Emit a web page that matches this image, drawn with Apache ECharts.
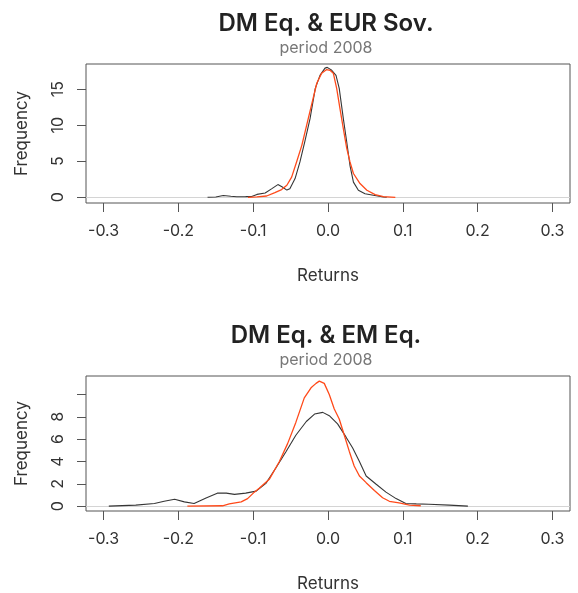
<!DOCTYPE html>
<html>
<head>
<meta charset="utf-8">
<script src="https://cdn.jsdelivr.net/npm/echarts@6/dist/echarts.min.js"></script>
<style>
html,body{margin:0;padding:0;background:#fff;}
#chart{width:578px;height:593px;}
</style>
</head>
<body>
<div id="chart"></div>
<script>
// ---- data ----
const titles = ['DM Eq. & EUR Sov.', 'DM Eq. & EM Eq.'];
const subtitle = 'period 2008';
const xTicks = [-0.3, -0.2, -0.1, 0, 0.1, 0.2, 0.3];
const yTicksTop = [0, 5, 10, 15];
const yTicksBottom = [0, 2, 4, 6, 8, 10];
const yLabelsBottom = [0, 2, 4, 6, 8];

// top panel: DM Eq. (dark) and EUR Sov. (orange)
const topDark = [[-0.161,0],[-0.150,0.05],[-0.140,0.25],[-0.130,0.15],[-0.122,0.08],[-0.110,0.1],[-0.102,0.12],[-0.095,0.4],[-0.084,0.6],[-0.075,1.2],[-0.067,1.76],[-0.061,1.43],[-0.055,1.0],[-0.051,1.2],[-0.044,2.6],[-0.0375,4.9],[-0.031,7.7],[-0.024,10.9],[-0.017,15.1],[-0.0107,16.9],[-0.004,17.9],[-0.001,18.0],[0.005,17.6],[0.0107,16.9],[0.015,15.1],[0.0205,10.9],[0.025,7.7],[0.0294,4.4],[0.034,2.1],[0.0406,0.97],[0.0495,0.5],[0.0606,0.28],[0.074,0.05],[0.0785,0]];
const topOrange = [[-0.107,0],[-0.095,0.05],[-0.082,0.18],[-0.071,0.65],[-0.062,1.07],[-0.055,1.67],[-0.0486,2.8],[-0.042,4.9],[-0.035,7.2],[-0.0285,10],[-0.022,12.8],[-0.015,15.8],[-0.0085,17.2],[-0.0017,17.7],[0.0027,17.6],[0.0071,17.2],[0.0116,15.1],[0.016,12.3],[0.0205,9.5],[0.025,6.8],[0.0294,4.9],[0.034,3.3],[0.0428,1.9],[0.052,0.97],[0.063,0.37],[0.074,0.1],[0.09,0]];

// bottom panel: DM Eq. (dark) and EM Eq. (orange)
const bottomDark = [[-0.293,0],[-0.257,0.09],[-0.232,0.23],[-0.219,0.43],[-0.205,0.61],[-0.192,0.38],[-0.179,0.23],[-0.163,0.73],[-0.148,1.16],[-0.136,1.16],[-0.125,1.05],[-0.11,1.16],[-0.096,1.34],[-0.083,2.04],[-0.0695,3.44],[-0.056,4.9],[-0.043,6.35],[-0.029,7.58],[-0.018,8.25],[-0.007,8.4],[0.0017,8.1],[0.0128,7.37],[0.024,6.2],[0.033,5.2],[0.042,4.0],[0.051,2.7],[0.064,1.98],[0.0775,1.25],[0.091,0.67],[0.104,0.23],[0.118,0.2],[0.135,0.17],[0.162,0.09],[0.187,0]];
const bottomOrange = [[-0.188,0],[-0.141,0.03],[-0.132,0.2],[-0.116,0.38],[-0.1075,0.67],[-0.0985,1.25],[-0.092,1.6],[-0.0785,2.4],[-0.065,4.0],[-0.054,5.6],[-0.043,7.5],[-0.0317,9.7],[-0.0227,10.6],[-0.016,11.0],[-0.0116,11.2],[-0.005,11.0],[0.0017,10.0],[0.0084,8.7],[0.015,7.8],[0.0218,6.35],[0.0285,4.9],[0.035,3.6],[0.042,2.7],[0.051,2.1],[0.062,1.4],[0.073,0.75],[0.082,0.43],[0.095,0.29],[0.109,0.09],[0.124,0.03]];

// ---- chart ----
const FONT = 'Inter';
const DARK = '#363636';
const ORANGE = '#ff4a1a';
const BOX = '#555555';

function xAxisDef(idx) {
  return {
    type: 'value', gridIndex: idx, min: -0.3235, max: 0.3235,
    axisLine: {show: false, onZero: false}, splitLine: {show: false},
    axisTick: {show: true, length: 9, customValues: xTicks, lineStyle: {color: BOX, width: 1}},
    axisLabel: {customValues: xTicks, formatter: v => v.toFixed(1), fontFamily: FONT, fontSize: 16, color: '#333', margin: 20},
    name: 'Returns', nameLocation: 'middle', nameGap: 64,
    nameTextStyle: {fontFamily: FONT, fontSize: 17, color: '#333'}
  };
}
function yAxisDef(idx, min, max, ticks, labels) {
  return {
    type: 'value', gridIndex: idx, min: min, max: max,
    axisLine: {show: false, onZero: false}, splitLine: {show: false},
    axisTick: {show: true, length: 9, customValues: ticks, lineStyle: {color: BOX, width: 1}},
    axisLabel: {customValues: labels, rotate: 90, fontFamily: FONT, fontSize: 16, color: '#333', margin: 20},
    name: 'Frequency', nameLocation: 'middle', nameGap: 56, nameRotate: 90,
    nameTextStyle: {fontFamily: FONT, fontSize: 17, color: '#333'}
  };
}
function zeroLine() {
  return {silent: true, symbol: 'none', label: {show: false},
    lineStyle: {color: '#d4d4d4', type: 'solid', width: 1}, data: [{yAxis: 0}], z: 1};
}
function lineSeries(data, color, idx, width, withZero) {
  const s = {type: 'line', data: data, xAxisIndex: idx, yAxisIndex: idx,
    showSymbol: false, symbol: 'none', smooth: false,
    lineStyle: {color: color, width: width}, itemStyle: {color: color}, z: 3};
  if (withZero) s.markLine = zeroLine();
  return s;
}

const chart = echarts.init(document.getElementById('chart'), null, {renderer: 'canvas'});
chart.setOption({
  animation: false,
  backgroundColor: '#fff',
  title: [
    {text: titles[0], left: 326, top: 12, textAlign: 'center', padding: 0,
     textStyle: {fontFamily: FONT, fontSize: 24, fontWeight: 600, color: '#222'}},
    {text: subtitle, left: 326, top: 40, textAlign: 'center', padding: 0,
     textStyle: {fontFamily: FONT, fontSize: 16, fontWeight: 'normal', color: '#777'}},
    {text: titles[1], left: 326, top: 324, textAlign: 'center', padding: 0,
     textStyle: {fontFamily: FONT, fontSize: 24, fontWeight: 600, color: '#222'}},
    {text: subtitle, left: 326, top: 352, textAlign: 'center', padding: 0,
     textStyle: {fontFamily: FONT, fontSize: 16, fontWeight: 'normal', color: '#777'}}
  ],
  grid: [
    {left: 86, top: 64, width: 484, height: 139, show: true, borderColor: BOX, borderWidth: 1, containLabel: false},
    {left: 86, top: 376, width: 484, height: 138, show: true, borderColor: BOX, borderWidth: 1, containLabel: false}
  ],
  xAxis: [xAxisDef(0), xAxisDef(1)],
  yAxis: [
    yAxisDef(0, -0.79, 18.47, yTicksTop, yTicksTop),
    yAxisDef(1, -0.44, 11.66, yTicksBottom, yLabelsBottom)
  ],
  series: [
    lineSeries(topDark, DARK, 0, 1.1, true),
    lineSeries(topOrange, ORANGE, 0, 1.3, false),
    lineSeries(bottomDark, DARK, 1, 1.1, true),
    lineSeries(bottomOrange, ORANGE, 1, 1.3, false)
  ]
});
</script>
</body>
</html>
